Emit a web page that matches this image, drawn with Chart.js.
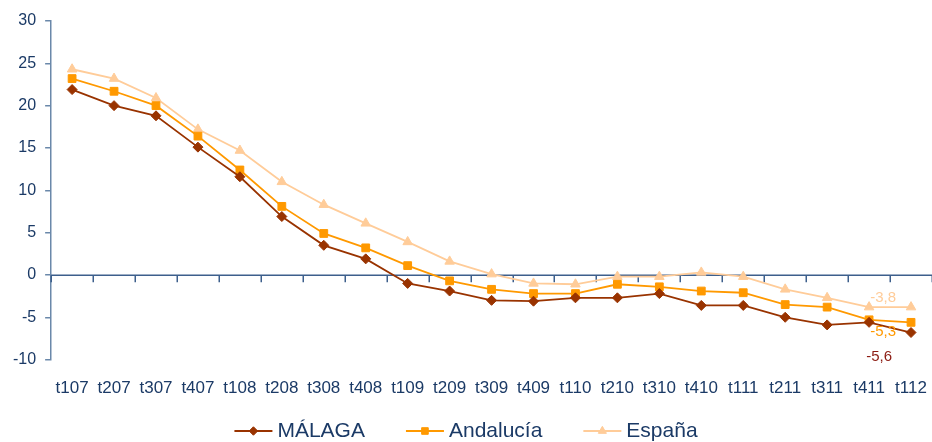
<!DOCTYPE html>
<html>
<head>
<meta charset="utf-8">
<script src="https://cdn.jsdelivr.net/npm/chart.js@4/dist/chart.umd.min.js"></script>
<style>
  html, body { margin: 0; padding: 0; background: #ffffff; }
  #wrap { width: 932px; height: 442px; position: relative; }
</style>
</head>
<body>
<div id="wrap"><canvas id="c" width="932" height="442"></canvas></div>
<script>
// ---- Data ----
const categories = ['t107','t207','t307','t407','t108','t208','t308','t408','t109','t209','t309','t409','t110','t210','t310','t410','t111','t211','t311','t411','t112'];
const seriesNames = ['MÁLAGA', 'Andalucía', 'España'];
const malaga    = [21.9, 20.0, 18.8, 15.1, 11.6, 6.9, 3.5, 1.9, -1.0, -1.9, -3.0, -3.1, -2.7, -2.7, -2.2, -3.6, -3.6, -5.0, -5.9, -5.6, -6.8];
const andalucia = [23.2, 21.7, 20.0, 16.4, 12.4, 8.1, 4.9, 3.2, 1.1, -0.7, -1.7, -2.2, -2.2, -1.1, -1.4, -1.9, -2.1, -3.5, -3.8, -5.3, -5.6];
const espana    = [24.3, 23.2, 20.9, 17.2, 14.7, 11.0, 8.3, 6.1, 3.9, 1.6, 0.1, -1.0, -1.1, -0.2, -0.2, 0.3, -0.2, -1.7, -2.7, -3.8, -3.8];
const yTicks = [-10, -5, 0, 5, 10, 15, 20, 25, 30];
const labelledCategory = 't411';

// ---- Styles ----
const FONT = "'Liberation Sans', Arial, sans-serif";
const TEXT = '#1B3A66';
const AXIS_Y = '#6A88AA';
const AXIS_X = '#3D5F8C';
const colors = ['#993300', '#FF9900', '#FFCC99'];
const labelColors = ['#8C1C13', '#FF9900', '#FFCC99'];
const pointStyles = ['rectRot', 'rect', 'triangle'];
const pointRadii = [5, 5.5, 5.5];
const labelOffsets = [[10, 35], [14, 12.5], [14, -9.5]];

const seriesData = [malaga, andalucia, espana];

const datasets = seriesData.map((d, i) => ({
  label: seriesNames[i],
  data: d,
  borderColor: colors[i],
  backgroundColor: colors[i],
  pointBackgroundColor: colors[i],
  pointBorderColor: colors[i],
  pointStyle: pointStyles[i],
  pointRadius: pointRadii[i],
  pointBorderWidth: 1,
  borderWidth: 1.8,
  tension: 0,
  fill: false,
  xAxisID: 'x',
  yAxisID: 'y'
}));

// Horizontal axis line at value 0 with tick marks at category boundaries
const zeroAxis = {
  id: 'zeroAxis',
  beforeDatasetsDraw(chart) {
    const ctx = chart.ctx;
    const xs = chart.scales.x, ys = chart.scales.y;
    const y0 = Math.round(ys.getPixelForValue(0)) + 0.25;
    const n = categories.length;
    const half = (xs.getPixelForValue(1) - xs.getPixelForValue(0)) / 2;
    ctx.save();
    ctx.strokeStyle = AXIS_X;
    ctx.lineWidth = 1.5;
    ctx.beginPath();
    ctx.moveTo(chart.chartArea.left, y0);
    ctx.lineTo(chart.chartArea.right, y0);
    for (let i = 0; i <= n; i++) {
      const bx = Math.round(xs.getPixelForValue(i) - half) + 0.25;
      ctx.moveTo(bx, y0);
      ctx.lineTo(bx, y0 + 7);
    }
    ctx.stroke();
    ctx.restore();
  }
};

// Value labels at the last-but-one category
const valueLabels = {
  id: 'valueLabels',
  afterDatasetsDraw(chart) {
    const ctx = chart.ctx;
    const idx = categories.indexOf(labelledCategory);
    const xs = chart.scales.x, ys = chart.scales.y;
    ctx.save();
    ctx.font = '15px ' + FONT;
    ctx.textAlign = 'center';
    ctx.textBaseline = 'middle';
    seriesData.forEach((d, i) => {
      const v = d[idx];
      const px = xs.getPixelForValue(idx) + labelOffsets[i][0];
      const py = ys.getPixelForValue(v) + labelOffsets[i][1];
      ctx.fillStyle = labelColors[i];
      ctx.fillText(v.toFixed(1).replace('.', ','), px, py);
    });
    ctx.restore();
  }
};

// Custom legend: line + marker + text, centered under chart
const lineLegend = {
  id: 'lineLegend',
  afterDraw(chart) {
    const ctx = chart.ctx;
    ctx.save();
    ctx.font = '21px ' + FONT;
    ctx.textBaseline = 'middle';
    const lineLen = 38, gapText = 5, gapItem = 41;
    const widths = seriesNames.map(n => ctx.measureText(n).width);
    let total = 0;
    widths.forEach((w, i) => { total += lineLen + gapText + w + (i < widths.length - 1 ? gapItem : 0); });
    let x = (chart.width - total) / 2;
    const y = 431;
    seriesNames.forEach((name, i) => {
      ctx.strokeStyle = colors[i];
      ctx.lineWidth = 1.8;
      ctx.beginPath();
      ctx.moveTo(x, y);
      ctx.lineTo(x + lineLen, y);
      ctx.stroke();
      ctx.fillStyle = colors[i];
      const r = pointRadii[i] * 0.85;
      if (Chart.helpers && Chart.helpers.drawPoint) {
        ctx.lineWidth = 1;
        Chart.helpers.drawPoint(ctx, {pointStyle: pointStyles[i], radius: r, rotation: 0, borderWidth: 1}, x + lineLen / 2, y);
      }
      ctx.fillStyle = TEXT;
      ctx.fillText(name, x + lineLen + gapText, y);
      x += lineLen + gapText + widths[i] + gapItem;
    });
    ctx.restore();
  }
};

new Chart(document.getElementById('c'), {
  type: 'line',
  data: { labels: categories, datasets },
  plugins: [zeroAxis, valueLabels, lineLegend],
  options: {
    responsive: false,
    devicePixelRatio: 1,
    animation: false,
    layout: { autoPadding: false, padding: { top: 21, left: 4, right: 0, bottom: 41 } },
    plugins: {
      legend: { display: false },
      tooltip: { enabled: false },
      title: { display: false }
    },
    scales: {
      x: {
        type: 'category',
        position: 'bottom',
        offset: true,
        grid: {
          display: true,
          drawOnChartArea: false,
          drawTicks: true,
          tickLength: 17,
          color: 'rgba(0,0,0,0)'
        },
        border: { display: false },
        ticks: {
          font: { family: FONT, size: 17 },
          color: TEXT,
          padding: 2,
          maxRotation: 0,
          autoSkip: false
        },
        afterFit(scale) { scale.paddingLeft = 0; scale.paddingRight = 0; }
      },
      y: {
        type: 'linear',
        position: 'left',
        min: -10,
        max: 30,
        afterBuildTicks(scale) { scale.ticks = yTicks.map(v => ({ value: v })); },
        grid: {
          display: true,
          drawOnChartArea: false,
          drawTicks: true,
          tickLength: 6,
          color: AXIS_Y,
          lineWidth: 1.5
        },
        border: { display: true, color: AXIS_Y, width: 1.5 },
        ticks: {
          font: { family: FONT, size: 16 },
          color: TEXT,
          padding: 9
        }
      }
    }
  }
});
</script>
</body>
</html>
